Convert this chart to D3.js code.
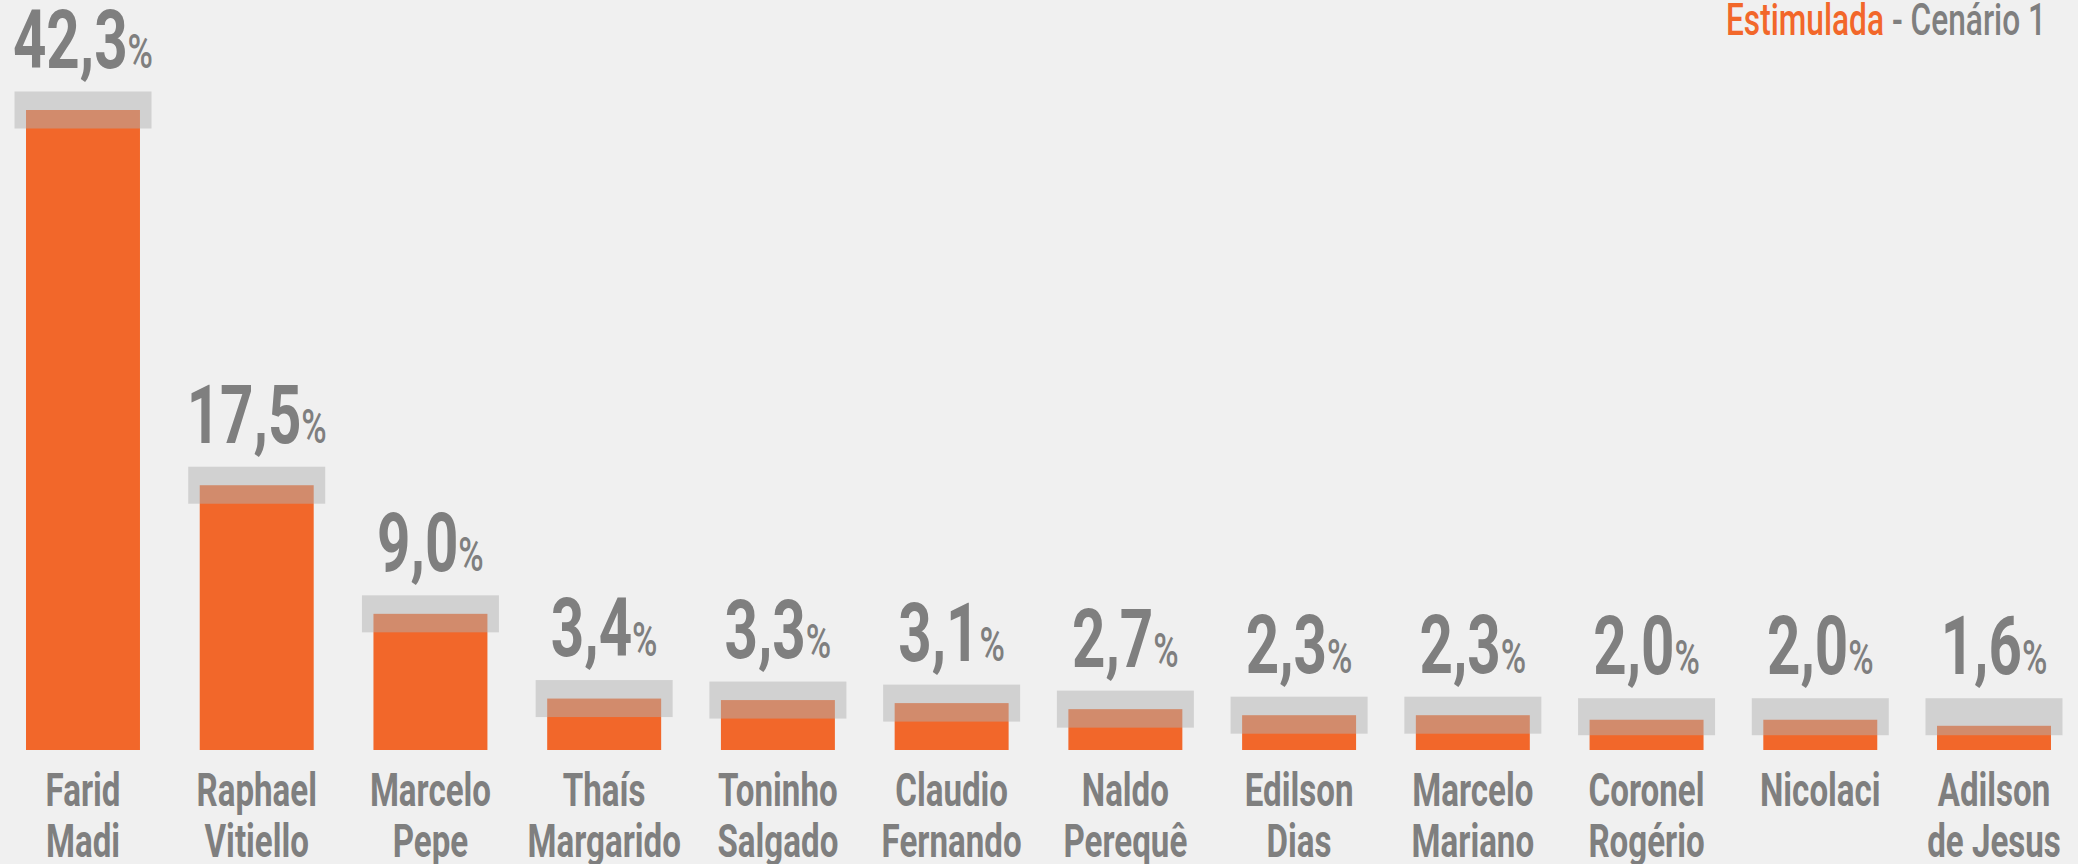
<!DOCTYPE html>
<html>
<head>
<meta charset="utf-8">
<script src="https://cdn.jsdelivr.net/npm/d3@7"></script>
<style>
  body { margin: 0; background: #f0f0f0; }
  svg { display: block; }
</style>
</head>
<body>
<div id="chart-area"></div>
<script>
// data
const candidates = [
    "Farid Madi", "Raphael Vitiello", "Marcelo Pepe", "Thaís Margarido",
    "Toninho Salgado", "Claudio Fernando", "Naldo Perequê", "Edilson Dias",
    "Marcelo Mariano", "Coronel Rogério", "Nicolaci", "Adilson de Jesus"
];
const values = [42.3, 17.5, 9.0, 3.4, 3.3, 3.1, 2.7, 2.3, 2.3, 2.0, 2.0, 1.6];
const titleParts = ["Estimulada", " - Cenário 1"];

const width = 2078;
const height = 864;
const orange = "#f2672a";
const gray = "#7f7f7f";
const squeeze = 0.72; // narrow the font to look condensed

const data = candidates.map((name, i) => ({name: name, value: values[i]}));

const svg = d3.select("#chart-area")
    .append("svg")
    .attr("width", width)
    .attr("height", height)
    .style("font-family", "Roboto, 'Liberation Sans', sans-serif");

svg.append("rect")
    .attr("width", width)
    .attr("height", height)
    .attr("fill", "#f0f0f0");

const xScale = d3.scaleBand()
    .domain(candidates)
    .range([26, 2051])
    .paddingInner(0.344)
    .paddingOuter(0);

const yScale = d3.scaleLinear()
    .domain([0, d3.max(values)])
    .range([750, 110]);

const bandW = 137;
const bandH = 37;
// the grey marker sits on the bar top, but not lower than the 2.2% line
const bandCenter = d => yScale(Math.max(d.value, 2.2));

const cx = d => xScale(d.name) + xScale.bandwidth() / 2;

// bars
svg.selectAll(".bar")
    .data(data)
    .enter()
    .append("rect")
    .attr("class", "bar")
    .attr("x", d => xScale(d.name))
    .attr("y", d => yScale(d.value))
    .attr("width", xScale.bandwidth())
    .attr("height", d => yScale(0) - yScale(d.value))
    .attr("fill", orange);

// translucent grey markers on the bar tops
svg.selectAll(".marker")
    .data(data)
    .enter()
    .append("rect")
    .attr("class", "marker")
    .attr("x", d => cx(d) - bandW / 2)
    .attr("y", d => bandCenter(d) - bandH / 2)
    .attr("width", bandW)
    .attr("height", bandH)
    .attr("fill", "rgb(177,177,177)")
    .attr("fill-opacity", 0.49);

// value labels
const valueLabels = svg.selectAll(".value")
    .data(data)
    .enter()
    .append("text")
    .attr("class", "value")
    .attr("transform", d => `translate(${cx(d)}, ${bandCenter(d) - bandH / 2 - 24}) scale(${squeeze}, 1)`)
    .attr("text-anchor", "middle")
    .attr("fill", gray);

valueLabels.append("tspan")
    .style("font-size", "81px")
    .style("font-weight", 700)
    .text(d => d.value.toFixed(1).replace(".", ","));

valueLabels.append("tspan")
    .style("font-size", "48px")
    .style("font-weight", 500)
    .text("%");

// category labels, split on the first space
const catLabels = svg.selectAll(".cat")
    .data(data)
    .enter()
    .append("text")
    .attr("class", "cat")
    .attr("transform", d => `translate(${cx(d)}, 806) scale(${squeeze}, 1)`)
    .attr("text-anchor", "middle")
    .attr("fill", gray)
    .style("font-size", "46px")
    .style("font-weight", 700);

catLabels.each(function(d) {
    const k = d.name.indexOf(" ");
    const lines = k < 0 ? [d.name] : [d.name.slice(0, k), d.name.slice(k + 1)];
    d3.select(this).selectAll("tspan")
        .data(lines)
        .enter()
        .append("tspan")
        .attr("x", 0)
        .attr("y", (l, i) => i * 51)
        .text(l => l);
});

// title, top right
const title = svg.append("text")
    .attr("transform", `translate(2046, 35) scale(${squeeze}, 1)`)
    .attr("text-anchor", "end")
    .style("font-size", "44px")
    .style("font-weight", 500);

title.append("tspan").attr("fill", orange).text(titleParts[0]);
title.append("tspan").attr("fill", gray).text(titleParts[1]);
</script>
</body>
</html>
